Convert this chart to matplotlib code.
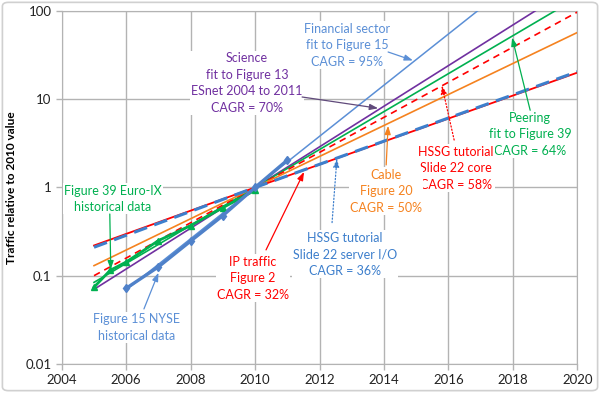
import numpy as np
import matplotlib
matplotlib.use('Agg')
import matplotlib.pyplot as plt
from matplotlib.patches import FancyBboxPatch

plt.rcParams['font.family'] = ['Lato', 'DejaVu Sans']

# fitted growth lines (value relative to 2010)
fit_years = [2005, 2010, 2020]
ip_traffic = [0.22, 1.0, 20.0]
server_io = [0.21, 1.0, 20.5]
cable = [0.13, 1.0, 57.0]
core = [0.10, 1.0, 97.0]
peering = [0.084, 1.0, 141.0]
science = [0.07, 1.0, 200.0]
fin_years = [2006, 2010, 2020]
financial = [0.069, 1.0, 790.0]

# historical data
nyse_years = [2006, 2007, 2008, 2009, 2010, 2011]
nyse = [0.072, 0.126, 0.247, 0.48, 1.0, 2.04]
euroix_years = [2005, 2005.5, 2006, 2007, 2008, 2009, 2010]
euroix = [0.074, 0.115, 0.143, 0.25, 0.37, 0.59, 0.93]

xticks = list(range(2004, 2021, 2))
yticks = [0.01, 0.1, 1, 10, 100]
ytick_labels = ['0.01', '0.1', '1', '10', '100']

RED = '#FF0000'
BLUE = '#3D7FCC'
LBLUE = '#5B8FD6'
ORANGE = '#F5821F'
GREEN = '#00B050'
PURPLE = '#7030A0'
GRID = '#B3B3B3'

fig = plt.figure(figsize=(6, 3.93), dpi=100)
ax = fig.add_axes([0.103, 0.074, 0.859, 0.898])

ax.plot(fin_years, financial, color=LBLUE, lw=1.1, zorder=3)
ax.plot(fit_years, science, color=PURPLE, lw=1.2, zorder=3)
ax.plot(fit_years, peering, color=GREEN, lw=1.2, zorder=3)
ax.plot(fit_years, core, color=RED, lw=1.2, ls=(0, (4, 3)), zorder=3)
ax.plot(fit_years, cable, color=ORANGE, lw=1.2, zorder=3)
ax.plot(fit_years, ip_traffic, color=RED, lw=1.3, zorder=3)
ax.plot(fit_years, server_io, color=BLUE, lw=2.2, ls=(0, (4.5, 2.5)), zorder=4)
ax.plot(euroix_years, euroix, color=GREEN, lw=2.0, marker='^', ms=4.5, zorder=5)
ax.plot(nyse_years, nyse, color='#4F81C9', lw=2.4, marker='d', ms=4.5, zorder=5)

ax.set_yscale('log')
ax.set_xlim(2004, 2020)
ax.set_ylim(0.01, 100)
ax.set_xticks(xticks)
ax.set_yticks(yticks)
ax.set_yticklabels(ytick_labels)
ax.minorticks_off()
ax.grid(True, color=GRID, lw=1.0)
ax.set_axisbelow(True)
for s in ax.spines.values():
    s.set_color(GRID)
ax.tick_params(colors=GRID, labelcolor='#222222', labelsize=9.5, length=4, width=1)
ax.set_ylabel('Traffic relative to 2010 value', fontsize=8.6, fontweight='bold', labelpad=6)


def label(x, y, text, color):
    ax.text(x, y, text, color=color, fontsize=9, ha='center', va='center',
            linespacing=1.45, zorder=8,
            bbox=dict(boxstyle='square,pad=0.1', fc='white', ec='none'))


def arrow(start, end, color, ls='-'):
    ax.annotate('', xy=end, xytext=start, zorder=9,
                arrowprops=dict(arrowstyle='-|>,head_length=0.5,head_width=0.18',
                                color=color, lw=0.9, ls=ls, shrinkA=0, shrinkB=0))


label(2009.75, 15.3, 'Science\nfit to Figure 13\nESnet 2004 to 2011\nCAGR = 70%', PURPLE)
arrow((2011.46, 10.6), (2013.82, 7.9), '#604A7B')

label(2012.85, 41.0, 'Financial sector\nfit to Figure 15\nCAGR = 95%', LBLUE)
arrow((2014.13, 34.3), (2014.9, 27.5), LBLUE)

label(2018.54, 4.0, 'Peering\nfit to Figure 39\nCAGR = 64%', GREEN)
arrow((2018.54, 7.5), (2017.98, 50.0), GREEN)

label(2016.24, 1.66, 'HSSG tutorial\nSlide 22 core\nCAGR = 58%', RED)
arrow((2016.18, 3.45), (2015.8, 14.3), RED, ls=':')

label(2014.07, 0.91, 'Cable\nFigure 20\nCAGR = 50%', ORANGE)
arrow((2014.07, 1.8), (2014.13, 5.0), ORANGE)

label(2012.79, 0.176, 'HSSG tutorial\nSlide 22 server I/O\nCAGR = 36%', BLUE)
arrow((2012.39, 0.40), (2012.54, 2.12), BLUE, ls=':')

label(2009.93, 0.094, 'IP traffic\nFigure 2\nCAGR = 32%', RED)
arrow((2010.34, 0.196), (2011.52, 1.5), RED)

label(2005.58, 0.74, 'Figure 39 Euro-IX\nhistorical data', GREEN)
arrow((2005.49, 0.50), (2005.52, 0.118), GREEN)

label(2006.33, 0.026, 'Figure 15 NYSE\nhistorical data', LBLUE)
arrow((2006.55, 0.042), (2007.0, 0.108), LBLUE)

fig.patches.append(FancyBboxPatch((0.004, 0.006), 0.992, 0.988, boxstyle='round,pad=0,rounding_size=0.01',
                                  transform=fig.transFigure, fill=False, ec='#D0D0D0', lw=1.2))

fig.savefig('out.png', dpi=100)
